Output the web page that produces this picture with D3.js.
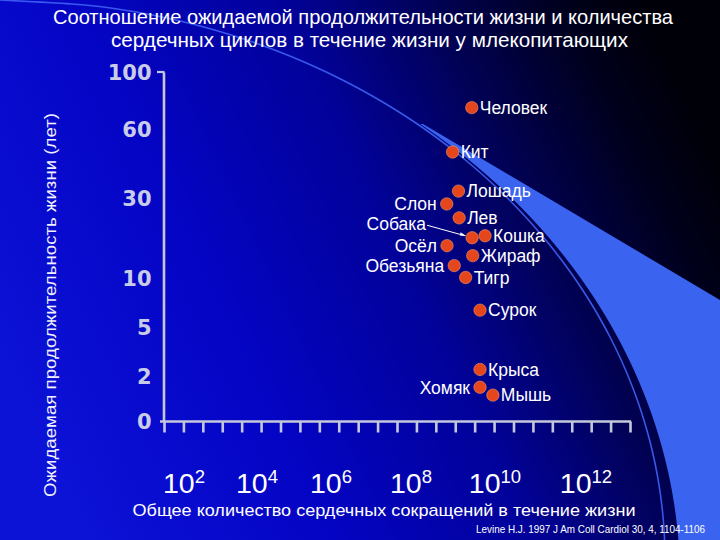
<!DOCTYPE html>
<html><head><meta charset="utf-8">
<script src="https://cdn.jsdelivr.net/npm/d3@7"></script>
<style>html,body{margin:0;padding:0;background:#000;}svg{display:block;}</style>
</head><body>
<svg id="c" width="720" height="540"></svg>
<script>
// ---- data ----
const animals    = ["Человек","Кит","Лошадь","Слон","Лев","Собака","Кошка","Осёл","Жираф","Обезьяна","Тигр","Сурок","Крыса","Хомяк","Мышь"];
const heartbeats = [2.8e9, 9.8e8, 1.35e9, 7.1e8, 1.4e9, 2.85e9, 5.8e9, 7.2e8, 2.95e9, 1.07e9, 2.0e9, 4.4e9, 4.4e9, 4.4e9, 8.9e9];
const lifespan   = [75, 50, 33, 28.5, 25, 20, 20.5, 18, 15.5, 13, 10, 6.7, 2.4, 1.5, 1.15];
const labelSide  = ["r","r","r","l","r","lp","r","l","r","l","r","r","r","l","r"];
const yTicks     = [0, 2, 5, 10, 30, 60, 100];
const xExponents = [2, 4, 6, 8, 10, 12];
const xMinorTicks = d3.range(25);
const titleLines = ["Соотношение ожидаемой продолжительности жизни и количества",
                    "сердечных циклов в течение жизни у млекопитающих"];
const yTitle = "Ожидаемая продолжительность жизни (лет)";
const xTitle = "Общее количество сердечных сокращений в течение жизни";
const source = "Levine H.J. 1997 J Am Coll Cardiol 30, 4, 1104-1106";

const svg = d3.select("#c");
const W = 720, H = 540;

// ---- background ----
const defs = svg.append("defs");
const bg = defs.append("linearGradient").attr("id","bg")
  .attr("x1","0").attr("y1","0.65").attr("x2","1").attr("y2","0.3");
[[0,"#0c12d6"],[0.3,"#0404c4"],[0.55,"#02029a"],[0.75,"#010150"],[0.9,"#00001c"],[1,"#000008"]]
  .forEach(([o,c])=>bg.append("stop").attr("offset",o).attr("stop-color",c));
svg.append("rect").attr("width",W).attr("height",H).attr("fill","url(#bg)");

// decorative swoosh band
const bandPts = [[423,124],[720,300],[720,540]];
const lowEdge = [];
for (let yy = 540; yy >= 124; yy -= 4) {
  const s = (580 - yy) / 580;
  lowEdge.push([680 * Math.sqrt(1 - s*s), yy]);
}
const bandPath = bandPts.concat(lowEdge);
svg.append("path").attr("d", d3.line()(bandPath) + "Z").attr("fill","#3a64f0");

// thin arc line
const arcPts = [];
for (let yy = 0; yy <= 540; yy += 4) {
  const s = (560 - yy) / 560;
  arcPts.push([665 * Math.sqrt(Math.max(0,1 - s*s)), yy]);
}
svg.append("path").attr("d", d3.line().curve(d3.curveBasis)(arcPts))
  .attr("fill","none").attr("stroke","#3f62f4").attr("stroke-width",1.6).attr("opacity",0.9);

// ---- scales ----
const y = d3.scaleLinear().domain(yTicks).range([421, 376, 327, 277.5, 198, 129, 72]);
const x = d3.scaleLinear().domain(xExponents).range([184, 257, 331, 411, 495, 586]);
const xt = d3.scaleLinear().domain([0, 24]).range([164, 630]);

// ---- title ----
svg.append("text").attr("x",363).attr("y",23.5).attr("text-anchor","middle")
  .attr("font-family","Liberation Sans Narrow, Liberation Sans, Arial").attr("font-size",21)
  .attr("fill","#fff").attr("textLength",620).attr("lengthAdjust","spacingAndGlyphs").text(titleLines[0]);
svg.append("text").attr("x",369.5).attr("y",47).attr("text-anchor","middle")
  .attr("font-family","Liberation Sans Narrow, Liberation Sans, Arial").attr("font-size",21)
  .attr("fill","#fff").attr("textLength",517).attr("lengthAdjust","spacingAndGlyphs").text(titleLines[1]);

// ---- axes ----
const axisColor = "#c4c8dc";
const yAxis = d3.axisLeft(y).tickValues(yTicks).tickSize(0).tickPadding(12);
const gy = svg.append("g").attr("transform","translate(163.5,0)").call(yAxis);
gy.select(".domain").attr("stroke",axisColor).attr("stroke-width",2.6);
gy.selectAll("text").attr("font-family","DejaVu Sans").attr("font-weight","bold")
  .attr("font-size",21).attr("fill","#c8cce8").attr("dy","0.36em");
// top stub
svg.append("line").attr("x1",157).attr("x2",164.5).attr("y1",y(100)).attr("y2",y(100))
  .attr("stroke",axisColor).attr("stroke-width",2.2);

const xAxis = d3.axisBottom(xt).tickValues(xMinorTicks).tickSize(11).tickFormat("");
const gx = svg.append("g").attr("transform","translate(0,421.5)").call(xAxis);
gx.select(".domain").attr("d","M160,0H631").attr("stroke",axisColor).attr("stroke-width",2.6);
gx.selectAll(".tick line").attr("stroke",axisColor).attr("stroke-width",2.6);

// x tick labels (powers of ten)
const xl = svg.append("g").selectAll("text").data(xExponents).join("text")
  .attr("x", d => x(d)).attr("y", 493).attr("text-anchor","middle")
  .attr("font-family","Liberation Sans, Arial").attr("fill","#fff");
xl.append("tspan").attr("font-size",28.5).text("10");
xl.append("tspan").attr("font-size",18.5).attr("dy",-10).text(d => d);

// axis titles
svg.append("text").attr("transform","translate(56,305) rotate(-90)").attr("text-anchor","middle")
  .attr("font-family","Liberation Sans, Arial").attr("font-size",17).attr("fill","#f0f0ff")
  .attr("textLength",384).attr("lengthAdjust","spacingAndGlyphs").text(yTitle);
svg.append("text").attr("x",384).attr("y",516).attr("text-anchor","middle")
  .attr("font-family","Liberation Sans, Arial").attr("font-size",17).attr("fill","#fff")
  .attr("textLength",503).attr("lengthAdjust","spacingAndGlyphs").text(xTitle);

// source
svg.append("text").attr("x",476).attr("y",533)
  .attr("font-family","Liberation Sans Narrow, Liberation Sans, Arial").attr("font-size",10.5).attr("fill","#fff")
  .attr("textLength",229).attr("lengthAdjust","spacingAndGlyphs").text(source);

// ---- points ----
const pts = animals.map((a,i)=>({name:a, hb:heartbeats[i], life:lifespan[i], side:labelSide[i],
  px:x(Math.log10(heartbeats[i])), py:y(lifespan[i])}));

const gp = svg.append("g");
gp.selectAll("circle").data(pts).join("circle")
  .attr("cx",d=>d.px).attr("cy",d=>d.py).attr("r",6.2)
  .attr("fill","#e6461c").attr("stroke","#f4a070").attr("stroke-opacity",0.55).attr("stroke-width",1);

// pointer for label with 'lp'
pts.filter(d=>d.side==="lp").forEach(d=>{
  svg.append("line").attr("x1",d.px-45).attr("y1",d.py-12.5).attr("x2",d.px-7).attr("y2",d.py-2)
    .attr("stroke","#fff").attr("stroke-width",1);
  svg.append("path").attr("d",`M${d.px-6},${d.py-1.8}l-5.5,-3.8l-0.8,3.3z`).attr("fill","#fff");
});

gp.selectAll("text").data(pts).join("text")
  .attr("x", d => d.side==="r" ? d.px+8 : d.side==="l" ? d.px-10 : d.px-46)
  .attr("y", d => d.side==="lp" ? d.py-14 : d.py)
  .attr("dy","0.36em")
  .attr("text-anchor", d => d.side==="r" ? "start" : "end")
  .attr("font-family","Liberation Sans, Arial").attr("font-size",17.5).attr("fill","#fff")
  .text(d=>d.name);
</script>
</body></html>
